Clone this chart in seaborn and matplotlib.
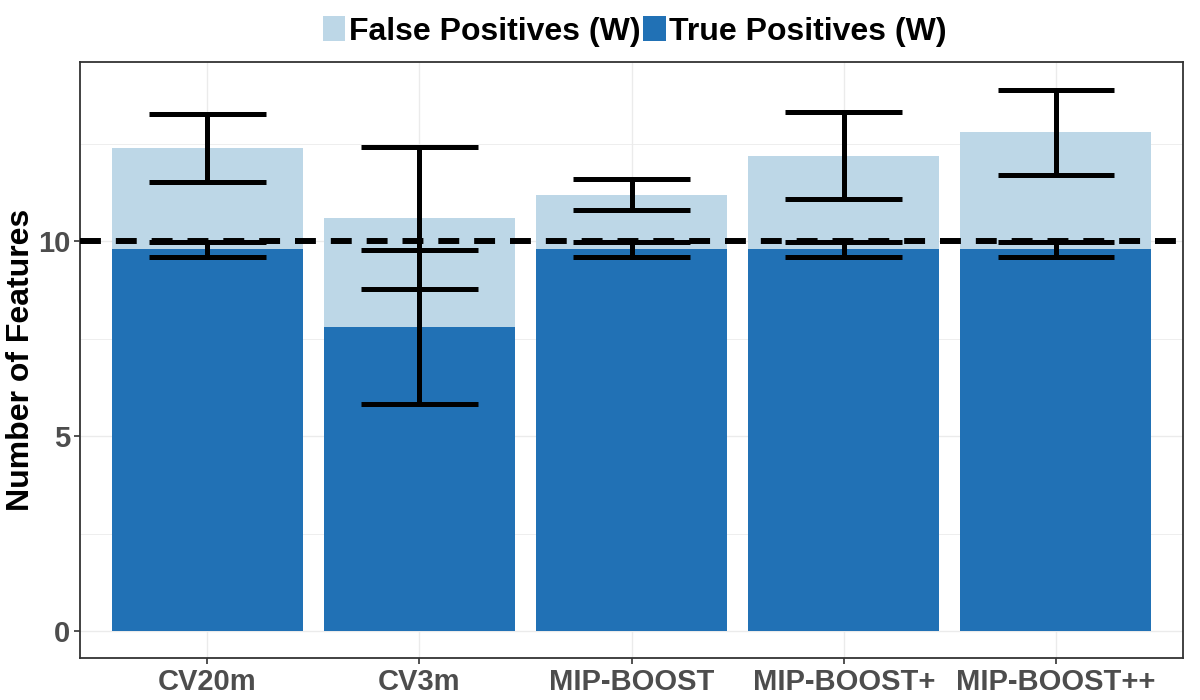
import pandas as pd
import seaborn as sns
import matplotlib.pyplot as plt
from matplotlib.patches import Patch

# --- data ---
methods = ["CV20m", "CV3m", "MIP-BOOST", "MIP-BOOST+", "MIP-BOOST++"]
true_pos = [9.8, 7.8, 9.8, 9.8, 9.8]
true_pos_sd = [0.19, 1.97, 0.19, 0.19, 0.19]
total_sel = [12.4, 10.6, 11.2, 12.2, 12.8]
total_sel_sd = [0.87, 1.83, 0.40, 1.12, 1.09]
y_ticks = [0, 5, 10]
target = 10

light = "#BDD7E7"
dark = "#2171B5"

df = pd.DataFrame({"method": methods, "tp": true_pos, "tp_sd": true_pos_sd,
                   "total": total_sel, "total_sd": total_sel_sd})

sns.set_theme(style="white")
plt.rcParams["font.family"] = ["Liberation Sans", "DejaVu Sans"]
plt.rcParams["font.weight"] = "bold"

fig, ax = plt.subplots(figsize=(12, 7), dpi=100)
fig.subplots_adjust(left=0.0667, right=0.986, top=0.911, bottom=0.06)

# light bar = all selected features, dark bar overlaid = true positives
sns.barplot(data=df, x="method", y="total", color=light, saturation=1,
            width=0.9, errorbar=None, ax=ax, zorder=2, linewidth=0, edgecolor="none")
sns.barplot(data=df, x="method", y="tp", color=dark, saturation=1,
            width=0.9, errorbar=None, ax=ax, zorder=2, linewidth=0, edgecolor="none")

ax.axhline(target, color="black", lw=4.3, ls=(0, (3.5, 2.5)), zorder=3)

# error bars (mean +/- sd), caps half-width 0.275 in category units
xs = range(len(df))
for col, sd in [("total", "total_sd"), ("tp", "tp_sd")]:
    lo = df[col] - df[sd]
    hi = df[col] + df[sd]
    ax.vlines(xs, lo, hi, color="black", lw=3.6, zorder=4)
    ax.hlines(lo, [x - 0.275 for x in xs], [x + 0.275 for x in xs],
              color="black", lw=3.6, zorder=4)
    ax.hlines(hi, [x - 0.275 for x in xs], [x + 0.275 for x in xs],
              color="black", lw=3.6, zorder=4)

ax.set_xlim(-0.6, len(df) - 0.4)
ax.set_ylim(-0.695, 14.6)
ax.set_yticks(y_ticks)
ax.set_yticks([2.5, 7.5, 12.5], minor=True)

ax.grid(True, which="major", color="#EBEBEB", lw=1.0, zorder=0)
ax.grid(True, which="minor", axis="y", color="#EBEBEB", lw=0.6, zorder=0)
ax.set_axisbelow(True)

for s in ax.spines.values():
    s.set_color("#333333")
    s.set_linewidth(1.3)

ax.tick_params(axis="both", which="major", length=4, width=1.2, color="#333333",
               labelcolor="#4D4D4D", labelsize=21, pad=3, bottom=True, left=True)
ax.tick_params(axis="y", which="minor", length=0)
for lab in ax.get_xticklabels() + ax.get_yticklabels():
    lab.set_fontweight("bold")

ax.set_xlabel("")
ax.set_ylabel("Number of Features", fontsize=23, fontweight="bold", color="black")
ax.yaxis.set_label_coords(-0.040, 0.5)

handles = [Patch(facecolor=light, edgecolor="none", label="False Positives (W)"),
           Patch(facecolor=dark, edgecolor="none", label="True Positives (W)")]
leg = fig.legend(handles=handles, loc="center", bbox_to_anchor=(0.529, 0.955), ncol=2,
                 frameon=False, prop={"size": 23, "weight": "bold"},
                 handlelength=0.7, handleheight=0.8, handletextpad=0.1, columnspacing=0.1)
for t in leg.get_texts():
    t.set_color("black")

fig.savefig("out.png", dpi=100)
